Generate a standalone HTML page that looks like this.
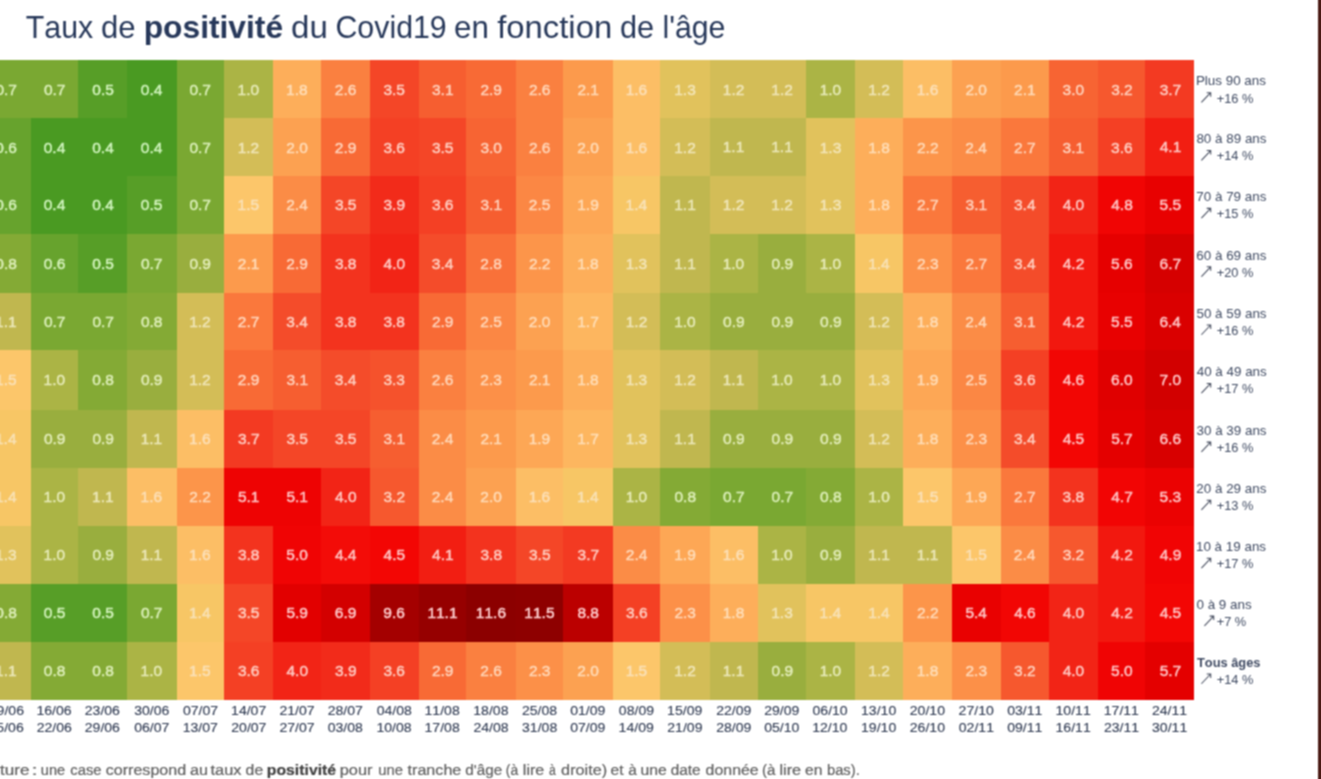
<!DOCTYPE html>
<html><head><meta charset="utf-8"><style>
html,body{margin:0;padding:0;background:#fff;}
body{width:1321px;height:779px;overflow:hidden;position:relative;font-family:"Liberation Sans",sans-serif;}
svg{position:absolute;left:0;top:0;font-kerning:none;}
</style></head><body>
<svg width="1321" height="779" viewBox="0 0 1321 779" font-family="Liberation Sans, sans-serif">
<defs><filter id="bl" x="0" y="0" width="1321" height="779" filterUnits="userSpaceOnUse" color-interpolation-filters="sRGB"><feConvolveMatrix order="3" kernelMatrix="1 2 1 2 4 2 1 2 1" divisor="16" edgeMode="duplicate"/></filter></defs>
<g filter="url(#bl)">
<rect x="0" y="0" width="1321" height="779" fill="#fff"/>
<rect x="1318" y="0" width="3" height="779" fill="#4a1a14"/>
<g fill="#27385a"><text x="25.82" y="38.20" font-size="30.5" textLength="67.41" lengthAdjust="spacingAndGlyphs">Taux</text><text x="100.99" y="38.20" font-size="30.5" textLength="34.59" lengthAdjust="spacingAndGlyphs">de</text><text x="143.71" y="38.20" font-size="30.5" textLength="139.38" lengthAdjust="spacingAndGlyphs" font-weight="bold">positivité</text><text x="291.11" y="38.20" font-size="30.5" textLength="36.78" lengthAdjust="spacingAndGlyphs">du</text><text x="335.46" y="38.20" font-size="30.5" textLength="111.28" lengthAdjust="spacingAndGlyphs">Covid19</text><text x="454.07" y="38.20" font-size="30.5" textLength="34.76" lengthAdjust="spacingAndGlyphs">en</text><text x="497.24" y="38.20" font-size="30.5" textLength="114.89" lengthAdjust="spacingAndGlyphs">fonction</text><text x="619.91" y="38.20" font-size="30.5" textLength="34.15" lengthAdjust="spacingAndGlyphs">de</text><text x="662.46" y="38.20" font-size="30.5" textLength="62.98" lengthAdjust="spacingAndGlyphs">l'âge</text></g>
<g shape-rendering="crispEdges">
<rect x="-17.90" y="60.30" width="49.10" height="58.50" fill="#7aa832"/><rect x="30.60" y="60.30" width="48.00" height="58.50" fill="#7aa832"/><rect x="78.00" y="60.30" width="49.40" height="58.50" fill="#579e27"/><rect x="126.80" y="60.30" width="50.40" height="58.50" fill="#4a9a22"/><rect x="176.60" y="60.30" width="48.30" height="58.50" fill="#7aa832"/><rect x="224.30" y="60.30" width="49.70" height="58.50" fill="#abb445"/><rect x="273.40" y="60.30" width="47.80" height="58.50" fill="#fdae5a"/><rect x="320.60" y="60.30" width="49.90" height="58.50" fill="#fa8040"/><rect x="369.90" y="60.30" width="49.40" height="58.50" fill="#f44627"/><rect x="418.70" y="60.30" width="47.90" height="58.50" fill="#f65e30"/><rect x="466.00" y="60.30" width="50.80" height="58.50" fill="#f86a35"/><rect x="516.20" y="60.30" width="47.40" height="58.50" fill="#fa8040"/><rect x="563.00" y="60.30" width="50.10" height="58.50" fill="#fc9a4c"/><rect x="612.50" y="60.30" width="48.40" height="58.50" fill="#fcbe65"/><rect x="660.30" y="60.30" width="49.80" height="58.50" fill="#e1c25c"/><rect x="709.50" y="60.30" width="49.20" height="58.50" fill="#d3bd57"/><rect x="758.10" y="60.30" width="48.00" height="58.50" fill="#d3bd57"/><rect x="805.50" y="60.30" width="49.80" height="58.50" fill="#abb445"/><rect x="854.70" y="60.30" width="49.00" height="58.50" fill="#d3bd57"/><rect x="903.10" y="60.30" width="49.30" height="58.50" fill="#fcbe65"/><rect x="951.80" y="60.30" width="49.60" height="58.50" fill="#fca151"/><rect x="1000.80" y="60.30" width="48.50" height="58.50" fill="#fc9a4c"/><rect x="1048.70" y="60.30" width="49.90" height="58.50" fill="#f76433"/><rect x="1098.00" y="60.30" width="47.70" height="58.50" fill="#f6582e"/><rect x="1145.10" y="60.30" width="48.90" height="58.50" fill="#f33a22"/><rect x="-17.90" y="118.20" width="49.10" height="58.40" fill="#67a32d"/><rect x="30.60" y="118.20" width="48.00" height="58.40" fill="#4a9a22"/><rect x="78.00" y="118.20" width="49.40" height="58.40" fill="#4a9a22"/><rect x="126.80" y="118.20" width="50.40" height="58.40" fill="#4a9a22"/><rect x="176.60" y="118.20" width="48.30" height="58.40" fill="#7aa832"/><rect x="224.30" y="118.20" width="49.70" height="58.40" fill="#d3bd57"/><rect x="273.40" y="118.20" width="47.80" height="58.40" fill="#fca151"/><rect x="320.60" y="118.20" width="49.90" height="58.40" fill="#f86a35"/><rect x="369.90" y="118.20" width="49.40" height="58.40" fill="#f44024"/><rect x="418.70" y="118.20" width="47.90" height="58.40" fill="#f44627"/><rect x="466.00" y="118.20" width="50.80" height="58.40" fill="#f76433"/><rect x="516.20" y="118.20" width="47.40" height="58.40" fill="#fa8040"/><rect x="563.00" y="118.20" width="50.10" height="58.40" fill="#fca151"/><rect x="612.50" y="118.20" width="48.40" height="58.40" fill="#fcbe65"/><rect x="660.30" y="118.20" width="49.80" height="58.40" fill="#d3bd57"/><rect x="709.50" y="118.20" width="49.20" height="58.40" fill="#c0b74f"/><rect x="758.10" y="118.20" width="48.00" height="58.40" fill="#c0b74f"/><rect x="805.50" y="118.20" width="49.80" height="58.40" fill="#e1c25c"/><rect x="854.70" y="118.20" width="49.00" height="58.40" fill="#fdae5a"/><rect x="903.10" y="118.20" width="49.30" height="58.40" fill="#fc954a"/><rect x="951.80" y="118.20" width="49.60" height="58.40" fill="#fb8c46"/><rect x="1000.80" y="118.20" width="48.50" height="58.40" fill="#fa783c"/><rect x="1048.70" y="118.20" width="49.90" height="58.40" fill="#f65e30"/><rect x="1098.00" y="118.20" width="47.70" height="58.40" fill="#f44024"/><rect x="1145.10" y="118.20" width="48.90" height="58.40" fill="#f21e12"/><rect x="-17.90" y="176.00" width="49.10" height="58.50" fill="#67a32d"/><rect x="30.60" y="176.00" width="48.00" height="58.50" fill="#4a9a22"/><rect x="78.00" y="176.00" width="49.40" height="58.50" fill="#4a9a22"/><rect x="126.80" y="176.00" width="50.40" height="58.50" fill="#579e27"/><rect x="176.60" y="176.00" width="48.30" height="58.50" fill="#7aa832"/><rect x="224.30" y="176.00" width="49.70" height="58.50" fill="#fcc66a"/><rect x="273.40" y="176.00" width="47.80" height="58.50" fill="#fb8c46"/><rect x="320.60" y="176.00" width="49.90" height="58.50" fill="#f44627"/><rect x="369.90" y="176.00" width="49.40" height="58.50" fill="#f22b1a"/><rect x="418.70" y="176.00" width="47.90" height="58.50" fill="#f44024"/><rect x="466.00" y="176.00" width="50.80" height="58.50" fill="#f65e30"/><rect x="516.20" y="176.00" width="47.40" height="58.50" fill="#fb8744"/><rect x="563.00" y="176.00" width="50.10" height="58.50" fill="#fda755"/><rect x="612.50" y="176.00" width="48.40" height="58.50" fill="#f7c665"/><rect x="660.30" y="176.00" width="49.80" height="58.50" fill="#c0b74f"/><rect x="709.50" y="176.00" width="49.20" height="58.50" fill="#d3bd57"/><rect x="758.10" y="176.00" width="48.00" height="58.50" fill="#d3bd57"/><rect x="805.50" y="176.00" width="49.80" height="58.50" fill="#e1c25c"/><rect x="854.70" y="176.00" width="49.00" height="58.50" fill="#fdae5a"/><rect x="903.10" y="176.00" width="49.30" height="58.50" fill="#fa783c"/><rect x="951.80" y="176.00" width="49.60" height="58.50" fill="#f65e30"/><rect x="1000.80" y="176.00" width="48.50" height="58.50" fill="#f44c2a"/><rect x="1048.70" y="176.00" width="49.90" height="58.50" fill="#f22416"/><rect x="1098.00" y="176.00" width="47.70" height="58.50" fill="#f10504"/><rect x="1145.10" y="176.00" width="48.90" height="58.50" fill="#e80101"/><rect x="-17.90" y="233.90" width="49.10" height="59.60" fill="#84aa35"/><rect x="30.60" y="233.90" width="48.00" height="59.60" fill="#67a32d"/><rect x="78.00" y="233.90" width="49.40" height="59.60" fill="#579e27"/><rect x="126.80" y="233.90" width="50.40" height="59.60" fill="#7aa832"/><rect x="176.60" y="233.90" width="48.30" height="59.60" fill="#99ae3e"/><rect x="224.30" y="233.90" width="49.70" height="59.60" fill="#fc9a4c"/><rect x="273.40" y="233.90" width="47.80" height="59.60" fill="#f86a35"/><rect x="320.60" y="233.90" width="49.90" height="59.60" fill="#f3331e"/><rect x="369.90" y="233.90" width="49.40" height="59.60" fill="#f22416"/><rect x="418.70" y="233.90" width="47.90" height="59.60" fill="#f44c2a"/><rect x="466.00" y="233.90" width="50.80" height="59.60" fill="#f97139"/><rect x="516.20" y="233.90" width="47.40" height="59.60" fill="#fc954a"/><rect x="563.00" y="233.90" width="50.10" height="59.60" fill="#fdae5a"/><rect x="612.50" y="233.90" width="48.40" height="59.60" fill="#e1c25c"/><rect x="660.30" y="233.90" width="49.80" height="59.60" fill="#c0b74f"/><rect x="709.50" y="233.90" width="49.20" height="59.60" fill="#abb445"/><rect x="758.10" y="233.90" width="48.00" height="59.60" fill="#99ae3e"/><rect x="805.50" y="233.90" width="49.80" height="59.60" fill="#abb445"/><rect x="854.70" y="233.90" width="49.00" height="59.60" fill="#f7c665"/><rect x="903.10" y="233.90" width="49.30" height="59.60" fill="#fc9048"/><rect x="951.80" y="233.90" width="49.60" height="59.60" fill="#fa783c"/><rect x="1000.80" y="233.90" width="48.50" height="59.60" fill="#f44c2a"/><rect x="1048.70" y="233.90" width="49.90" height="59.60" fill="#f2180f"/><rect x="1098.00" y="233.90" width="47.70" height="59.60" fill="#e60000"/><rect x="1145.10" y="233.90" width="48.90" height="59.60" fill="#d60000"/><rect x="-17.90" y="292.90" width="49.10" height="57.90" fill="#c0b74f"/><rect x="30.60" y="292.90" width="48.00" height="57.90" fill="#7aa832"/><rect x="78.00" y="292.90" width="49.40" height="57.90" fill="#7aa832"/><rect x="126.80" y="292.90" width="50.40" height="57.90" fill="#84aa35"/><rect x="176.60" y="292.90" width="48.30" height="57.90" fill="#d3bd57"/><rect x="224.30" y="292.90" width="49.70" height="57.90" fill="#fa783c"/><rect x="273.40" y="292.90" width="47.80" height="57.90" fill="#f44c2a"/><rect x="320.60" y="292.90" width="49.90" height="57.90" fill="#f3331e"/><rect x="369.90" y="292.90" width="49.40" height="57.90" fill="#f3331e"/><rect x="418.70" y="292.90" width="47.90" height="57.90" fill="#f86a35"/><rect x="466.00" y="292.90" width="50.80" height="57.90" fill="#fb8744"/><rect x="516.20" y="292.90" width="47.40" height="57.90" fill="#fca151"/><rect x="563.00" y="292.90" width="50.10" height="57.90" fill="#fdb65f"/><rect x="612.50" y="292.90" width="48.40" height="57.90" fill="#d3bd57"/><rect x="660.30" y="292.90" width="49.80" height="57.90" fill="#abb445"/><rect x="709.50" y="292.90" width="49.20" height="57.90" fill="#99ae3e"/><rect x="758.10" y="292.90" width="48.00" height="57.90" fill="#99ae3e"/><rect x="805.50" y="292.90" width="49.80" height="57.90" fill="#99ae3e"/><rect x="854.70" y="292.90" width="49.00" height="57.90" fill="#d3bd57"/><rect x="903.10" y="292.90" width="49.30" height="57.90" fill="#fdae5a"/><rect x="951.80" y="292.90" width="49.60" height="57.90" fill="#fb8c46"/><rect x="1000.80" y="292.90" width="48.50" height="57.90" fill="#f65e30"/><rect x="1048.70" y="292.90" width="49.90" height="57.90" fill="#f2180f"/><rect x="1098.00" y="292.90" width="47.70" height="57.90" fill="#e80101"/><rect x="1145.10" y="292.90" width="48.90" height="57.90" fill="#da0000"/><rect x="-17.90" y="350.20" width="49.10" height="60.20" fill="#fcc66a"/><rect x="30.60" y="350.20" width="48.00" height="60.20" fill="#abb445"/><rect x="78.00" y="350.20" width="49.40" height="60.20" fill="#84aa35"/><rect x="126.80" y="350.20" width="50.40" height="60.20" fill="#99ae3e"/><rect x="176.60" y="350.20" width="48.30" height="60.20" fill="#d3bd57"/><rect x="224.30" y="350.20" width="49.70" height="60.20" fill="#f86a35"/><rect x="273.40" y="350.20" width="47.80" height="60.20" fill="#f65e30"/><rect x="320.60" y="350.20" width="49.90" height="60.20" fill="#f44c2a"/><rect x="369.90" y="350.20" width="49.40" height="60.20" fill="#f5522c"/><rect x="418.70" y="350.20" width="47.90" height="60.20" fill="#fa8040"/><rect x="466.00" y="350.20" width="50.80" height="60.20" fill="#fc9048"/><rect x="516.20" y="350.20" width="47.40" height="60.20" fill="#fc9a4c"/><rect x="563.00" y="350.20" width="50.10" height="60.20" fill="#fdae5a"/><rect x="612.50" y="350.20" width="48.40" height="60.20" fill="#e1c25c"/><rect x="660.30" y="350.20" width="49.80" height="60.20" fill="#d3bd57"/><rect x="709.50" y="350.20" width="49.20" height="60.20" fill="#c0b74f"/><rect x="758.10" y="350.20" width="48.00" height="60.20" fill="#abb445"/><rect x="805.50" y="350.20" width="49.80" height="60.20" fill="#abb445"/><rect x="854.70" y="350.20" width="49.00" height="60.20" fill="#e1c25c"/><rect x="903.10" y="350.20" width="49.30" height="60.20" fill="#fda755"/><rect x="951.80" y="350.20" width="49.60" height="60.20" fill="#fb8744"/><rect x="1000.80" y="350.20" width="48.50" height="60.20" fill="#f44024"/><rect x="1048.70" y="350.20" width="49.90" height="60.20" fill="#f20604"/><rect x="1098.00" y="350.20" width="47.70" height="60.20" fill="#e00000"/><rect x="1145.10" y="350.20" width="48.90" height="60.20" fill="#d20000"/><rect x="-17.90" y="409.80" width="49.10" height="58.40" fill="#f7c665"/><rect x="30.60" y="409.80" width="48.00" height="58.40" fill="#99ae3e"/><rect x="78.00" y="409.80" width="49.40" height="58.40" fill="#99ae3e"/><rect x="126.80" y="409.80" width="50.40" height="58.40" fill="#c0b74f"/><rect x="176.60" y="409.80" width="48.30" height="58.40" fill="#fcbe65"/><rect x="224.30" y="409.80" width="49.70" height="58.40" fill="#f33a22"/><rect x="273.40" y="409.80" width="47.80" height="58.40" fill="#f44627"/><rect x="320.60" y="409.80" width="49.90" height="58.40" fill="#f44627"/><rect x="369.90" y="409.80" width="49.40" height="58.40" fill="#f65e30"/><rect x="418.70" y="409.80" width="47.90" height="58.40" fill="#fb8c46"/><rect x="466.00" y="409.80" width="50.80" height="58.40" fill="#fc9a4c"/><rect x="516.20" y="409.80" width="47.40" height="58.40" fill="#fda755"/><rect x="563.00" y="409.80" width="50.10" height="58.40" fill="#fdb65f"/><rect x="612.50" y="409.80" width="48.40" height="58.40" fill="#e1c25c"/><rect x="660.30" y="409.80" width="49.80" height="58.40" fill="#c0b74f"/><rect x="709.50" y="409.80" width="49.20" height="58.40" fill="#99ae3e"/><rect x="758.10" y="409.80" width="48.00" height="58.40" fill="#99ae3e"/><rect x="805.50" y="409.80" width="49.80" height="58.40" fill="#99ae3e"/><rect x="854.70" y="409.80" width="49.00" height="58.40" fill="#d3bd57"/><rect x="903.10" y="409.80" width="49.30" height="58.40" fill="#fdae5a"/><rect x="951.80" y="409.80" width="49.60" height="58.40" fill="#fc9048"/><rect x="1000.80" y="409.80" width="48.50" height="58.40" fill="#f44c2a"/><rect x="1048.70" y="409.80" width="49.90" height="58.40" fill="#f30604"/><rect x="1098.00" y="409.80" width="47.70" height="58.40" fill="#e40000"/><rect x="1145.10" y="409.80" width="48.90" height="58.40" fill="#d80000"/><rect x="-17.90" y="467.60" width="49.10" height="58.90" fill="#f7c665"/><rect x="30.60" y="467.60" width="48.00" height="58.90" fill="#abb445"/><rect x="78.00" y="467.60" width="49.40" height="58.90" fill="#c0b74f"/><rect x="126.80" y="467.60" width="50.40" height="58.90" fill="#fcbe65"/><rect x="176.60" y="467.60" width="48.30" height="58.90" fill="#fc954a"/><rect x="224.30" y="467.60" width="49.70" height="58.90" fill="#ee0303"/><rect x="273.40" y="467.60" width="47.80" height="58.90" fill="#ee0303"/><rect x="320.60" y="467.60" width="49.90" height="58.90" fill="#f22416"/><rect x="369.90" y="467.60" width="49.40" height="58.90" fill="#f6582e"/><rect x="418.70" y="467.60" width="47.90" height="58.90" fill="#fb8c46"/><rect x="466.00" y="467.60" width="50.80" height="58.90" fill="#fca151"/><rect x="516.20" y="467.60" width="47.40" height="58.90" fill="#fcbe65"/><rect x="563.00" y="467.60" width="50.10" height="58.90" fill="#f7c665"/><rect x="612.50" y="467.60" width="48.40" height="58.90" fill="#abb445"/><rect x="660.30" y="467.60" width="49.80" height="58.90" fill="#84aa35"/><rect x="709.50" y="467.60" width="49.20" height="58.90" fill="#7aa832"/><rect x="758.10" y="467.60" width="48.00" height="58.90" fill="#7aa832"/><rect x="805.50" y="467.60" width="49.80" height="58.90" fill="#84aa35"/><rect x="854.70" y="467.60" width="49.00" height="58.90" fill="#abb445"/><rect x="903.10" y="467.60" width="49.30" height="58.90" fill="#fcc66a"/><rect x="951.80" y="467.60" width="49.60" height="58.90" fill="#fda755"/><rect x="1000.80" y="467.60" width="48.50" height="58.90" fill="#fa783c"/><rect x="1048.70" y="467.60" width="49.90" height="58.90" fill="#f3331e"/><rect x="1098.00" y="467.60" width="47.70" height="58.90" fill="#f20504"/><rect x="1145.10" y="467.60" width="48.90" height="58.90" fill="#eb0202"/><rect x="-17.90" y="525.90" width="49.10" height="58.60" fill="#e1c25c"/><rect x="30.60" y="525.90" width="48.00" height="58.60" fill="#abb445"/><rect x="78.00" y="525.90" width="49.40" height="58.60" fill="#99ae3e"/><rect x="126.80" y="525.90" width="50.40" height="58.60" fill="#c0b74f"/><rect x="176.60" y="525.90" width="48.30" height="58.60" fill="#fcbe65"/><rect x="224.30" y="525.90" width="49.70" height="58.60" fill="#f3331e"/><rect x="273.40" y="525.90" width="47.80" height="58.60" fill="#f00404"/><rect x="320.60" y="525.90" width="49.90" height="58.60" fill="#f30c08"/><rect x="369.90" y="525.90" width="49.40" height="58.60" fill="#f30604"/><rect x="418.70" y="525.90" width="47.90" height="58.60" fill="#f21e12"/><rect x="466.00" y="525.90" width="50.80" height="58.60" fill="#f3331e"/><rect x="516.20" y="525.90" width="47.40" height="58.60" fill="#f44627"/><rect x="563.00" y="525.90" width="50.10" height="58.60" fill="#f33a22"/><rect x="612.50" y="525.90" width="48.40" height="58.60" fill="#fb8c46"/><rect x="660.30" y="525.90" width="49.80" height="58.60" fill="#fda755"/><rect x="709.50" y="525.90" width="49.20" height="58.60" fill="#fcbe65"/><rect x="758.10" y="525.90" width="48.00" height="58.60" fill="#abb445"/><rect x="805.50" y="525.90" width="49.80" height="58.60" fill="#99ae3e"/><rect x="854.70" y="525.90" width="49.00" height="58.60" fill="#c0b74f"/><rect x="903.10" y="525.90" width="49.30" height="58.60" fill="#c0b74f"/><rect x="951.80" y="525.90" width="49.60" height="58.60" fill="#fcc66a"/><rect x="1000.80" y="525.90" width="48.50" height="58.60" fill="#fb8c46"/><rect x="1048.70" y="525.90" width="49.90" height="58.60" fill="#f6582e"/><rect x="1098.00" y="525.90" width="47.70" height="58.60" fill="#f2180f"/><rect x="1145.10" y="525.90" width="48.90" height="58.60" fill="#f10404"/><rect x="-17.90" y="583.90" width="49.10" height="58.20" fill="#84aa35"/><rect x="30.60" y="583.90" width="48.00" height="58.20" fill="#579e27"/><rect x="78.00" y="583.90" width="49.40" height="58.20" fill="#579e27"/><rect x="126.80" y="583.90" width="50.40" height="58.20" fill="#7aa832"/><rect x="176.60" y="583.90" width="48.30" height="58.20" fill="#f7c665"/><rect x="224.30" y="583.90" width="49.70" height="58.20" fill="#f44627"/><rect x="273.40" y="583.90" width="47.80" height="58.20" fill="#e20000"/><rect x="320.60" y="583.90" width="49.90" height="58.20" fill="#d30000"/><rect x="369.90" y="583.90" width="49.40" height="58.20" fill="#a40000"/><rect x="418.70" y="583.90" width="47.90" height="58.20" fill="#960000"/><rect x="466.00" y="583.90" width="50.80" height="58.20" fill="#8c0000"/><rect x="516.20" y="583.90" width="47.40" height="58.20" fill="#8e0000"/><rect x="563.00" y="583.90" width="50.10" height="58.20" fill="#bb0000"/><rect x="612.50" y="583.90" width="48.40" height="58.20" fill="#f44024"/><rect x="660.30" y="583.90" width="49.80" height="58.20" fill="#fc9048"/><rect x="709.50" y="583.90" width="49.20" height="58.20" fill="#fdae5a"/><rect x="758.10" y="583.90" width="48.00" height="58.20" fill="#e1c25c"/><rect x="805.50" y="583.90" width="49.80" height="58.20" fill="#f7c665"/><rect x="854.70" y="583.90" width="49.00" height="58.20" fill="#f7c665"/><rect x="903.10" y="583.90" width="49.30" height="58.20" fill="#fc954a"/><rect x="951.80" y="583.90" width="49.60" height="58.20" fill="#e90101"/><rect x="1000.80" y="583.90" width="48.50" height="58.20" fill="#f20604"/><rect x="1048.70" y="583.90" width="49.90" height="58.20" fill="#f22416"/><rect x="1098.00" y="583.90" width="47.70" height="58.20" fill="#f2180f"/><rect x="1145.10" y="583.90" width="48.90" height="58.20" fill="#f30604"/><rect x="-17.90" y="641.50" width="49.10" height="58.10" fill="#c0b74f"/><rect x="30.60" y="641.50" width="48.00" height="58.10" fill="#84aa35"/><rect x="78.00" y="641.50" width="49.40" height="58.10" fill="#84aa35"/><rect x="126.80" y="641.50" width="50.40" height="58.10" fill="#abb445"/><rect x="176.60" y="641.50" width="48.30" height="58.10" fill="#fcc66a"/><rect x="224.30" y="641.50" width="49.70" height="58.10" fill="#f44024"/><rect x="273.40" y="641.50" width="47.80" height="58.10" fill="#f22416"/><rect x="320.60" y="641.50" width="49.90" height="58.10" fill="#f22b1a"/><rect x="369.90" y="641.50" width="49.40" height="58.10" fill="#f44024"/><rect x="418.70" y="641.50" width="47.90" height="58.10" fill="#f86a35"/><rect x="466.00" y="641.50" width="50.80" height="58.10" fill="#fa8040"/><rect x="516.20" y="641.50" width="47.40" height="58.10" fill="#fc9048"/><rect x="563.00" y="641.50" width="50.10" height="58.10" fill="#fca151"/><rect x="612.50" y="641.50" width="48.40" height="58.10" fill="#fcc66a"/><rect x="660.30" y="641.50" width="49.80" height="58.10" fill="#d3bd57"/><rect x="709.50" y="641.50" width="49.20" height="58.10" fill="#c0b74f"/><rect x="758.10" y="641.50" width="48.00" height="58.10" fill="#99ae3e"/><rect x="805.50" y="641.50" width="49.80" height="58.10" fill="#abb445"/><rect x="854.70" y="641.50" width="49.00" height="58.10" fill="#d3bd57"/><rect x="903.10" y="641.50" width="49.30" height="58.10" fill="#fdae5a"/><rect x="951.80" y="641.50" width="49.60" height="58.10" fill="#fc9048"/><rect x="1000.80" y="641.50" width="48.50" height="58.10" fill="#f6582e"/><rect x="1048.70" y="641.50" width="49.90" height="58.10" fill="#f22416"/><rect x="1098.00" y="641.50" width="47.70" height="58.10" fill="#f00404"/><rect x="1145.10" y="641.50" width="48.90" height="58.10" fill="#e40000"/>
</g>
<g font-size="15.5" stroke-width="0.45">
<text x="-4.60" y="94.66" fill="#dcf0bb" stroke="#dcf0bb">0.7</text><text x="43.91" y="94.66" fill="#dcf0bb" stroke="#dcf0bb">0.7</text><text x="92.36" y="94.66" fill="#d4f4be" stroke="#d4f4be">0.5</text><text x="140.77" y="94.66" fill="#d1f5bf" stroke="#d1f5bf">0.4</text><text x="189.44" y="94.66" fill="#dcf0bb" stroke="#dcf0bb">0.7</text><text x="237.58" y="94.66" fill="#e7ebb9" stroke="#e7ebb9">1.0</text><text x="286.12" y="94.66" fill="#ffdeb8" stroke="#ffdeb8">1.8</text><text x="334.84" y="94.66" fill="#ffd7ba" stroke="#ffd7ba">2.6</text><text x="383.43" y="94.66" fill="#ffcec0" stroke="#ffcec0">3.5</text><text x="431.99" y="94.66" fill="#ffd2bd" stroke="#ffd2bd">3.1</text><text x="480.39" y="94.66" fill="#ffd4bc" stroke="#ffd4bc">2.9</text><text x="528.88" y="94.66" fill="#ffd7ba" stroke="#ffd7ba">2.6</text><text x="577.43" y="94.66" fill="#ffdbb8" stroke="#ffdbb8">2.1</text><text x="625.70" y="94.66" fill="#fce0b8" stroke="#fce0b8">1.6</text><text x="674.21" y="94.66" fill="#f3e5b7" stroke="#f3e5b7">1.3</text><text x="722.77" y="94.66" fill="#f0e6b8" stroke="#f0e6b8">1.2</text><text x="771.28" y="94.66" fill="#f0e6b8" stroke="#f0e6b8">1.2</text><text x="819.70" y="94.66" fill="#e7ebb9" stroke="#e7ebb9">1.0</text><text x="868.30" y="94.66" fill="#f0e6b8" stroke="#f0e6b8">1.2</text><text x="916.76" y="94.66" fill="#fce0b8" stroke="#fce0b8">1.6</text><text x="965.43" y="94.66" fill="#ffdcb8" stroke="#ffdcb8">2.0</text><text x="1014.02" y="94.66" fill="#ffdbb8" stroke="#ffdbb8">2.1</text><text x="1062.54" y="94.66" fill="#ffd3bd" stroke="#ffd3bd">3.0</text><text x="1111.14" y="94.66" fill="#ffd1be" stroke="#ffd1be">3.2</text><text x="1159.65" y="94.66" fill="#ffccc2" stroke="#ffccc2">3.7</text><text x="-4.65" y="152.51" fill="#d7f2bd" stroke="#d7f2bd">0.6</text><text x="43.75" y="152.51" fill="#d1f5bf" stroke="#d1f5bf">0.4</text><text x="92.26" y="152.51" fill="#d1f5bf" stroke="#d1f5bf">0.4</text><text x="140.77" y="152.51" fill="#d1f5bf" stroke="#d1f5bf">0.4</text><text x="189.44" y="152.51" fill="#dcf0bb" stroke="#dcf0bb">0.7</text><text x="237.67" y="152.51" fill="#f0e6b8" stroke="#f0e6b8">1.2</text><text x="286.29" y="152.51" fill="#ffdcb8" stroke="#ffdcb8">2.0</text><text x="334.86" y="152.51" fill="#ffd4bc" stroke="#ffd4bc">2.9</text><text x="383.44" y="152.51" fill="#ffcdc1" stroke="#ffcdc1">3.6</text><text x="431.94" y="152.51" fill="#ffcec0" stroke="#ffcec0">3.5</text><text x="480.42" y="152.51" fill="#ffd3bd" stroke="#ffd3bd">3.0</text><text x="528.88" y="152.51" fill="#ffd7ba" stroke="#ffd7ba">2.6</text><text x="577.35" y="152.51" fill="#ffdcb8" stroke="#ffdcb8">2.0</text><text x="625.70" y="152.51" fill="#fce0b8" stroke="#fce0b8">1.6</text><text x="674.26" y="152.51" fill="#f0e6b8" stroke="#f0e6b8">1.2</text><text x="722.75" y="152.43" fill="#ece8b9" stroke="#ece8b9">1.1</text><text x="771.26" y="152.43" fill="#ece8b9" stroke="#ece8b9">1.1</text><text x="819.74" y="152.51" fill="#f3e5b7" stroke="#f3e5b7">1.3</text><text x="868.24" y="152.51" fill="#ffdeb8" stroke="#ffdeb8">1.8</text><text x="917.01" y="152.51" fill="#ffdab8" stroke="#ffdab8">2.2</text><text x="965.35" y="152.51" fill="#ffd9b9" stroke="#ffd9b9">2.4</text><text x="1014.03" y="152.51" fill="#ffd6bb" stroke="#ffd6bb">2.7</text><text x="1062.62" y="152.51" fill="#ffd2bd" stroke="#ffd2bd">3.1</text><text x="1111.09" y="152.51" fill="#ffcdc1" stroke="#ffcdc1">3.6</text><text x="1159.76" y="152.43" fill="#ffc8c3" stroke="#ffc8c3">4.1</text><text x="-4.65" y="210.36" fill="#d7f2bd" stroke="#d7f2bd">0.6</text><text x="43.75" y="210.36" fill="#d1f5bf" stroke="#d1f5bf">0.4</text><text x="92.26" y="210.36" fill="#d1f5bf" stroke="#d1f5bf">0.4</text><text x="140.87" y="210.36" fill="#d4f4be" stroke="#d4f4be">0.5</text><text x="189.44" y="210.36" fill="#dcf0bb" stroke="#dcf0bb">0.7</text><text x="237.60" y="210.28" fill="#fae1b8" stroke="#fae1b8">1.5</text><text x="286.21" y="210.36" fill="#ffd9b9" stroke="#ffd9b9">2.4</text><text x="334.92" y="210.36" fill="#ffcec0" stroke="#ffcec0">3.5</text><text x="383.47" y="210.36" fill="#ffcac2" stroke="#ffcac2">3.9</text><text x="431.95" y="210.36" fill="#ffcdc1" stroke="#ffcdc1">3.6</text><text x="480.50" y="210.36" fill="#ffd2bd" stroke="#ffd2bd">3.1</text><text x="528.86" y="210.36" fill="#ffd8ba" stroke="#ffd8ba">2.5</text><text x="577.21" y="210.36" fill="#ffddb8" stroke="#ffddb8">1.9</text><text x="625.58" y="210.28" fill="#f8e2b7" stroke="#f8e2b7">1.4</text><text x="674.24" y="210.28" fill="#ece8b9" stroke="#ece8b9">1.1</text><text x="722.77" y="210.36" fill="#f0e6b8" stroke="#f0e6b8">1.2</text><text x="771.28" y="210.36" fill="#f0e6b8" stroke="#f0e6b8">1.2</text><text x="819.74" y="210.36" fill="#f3e5b7" stroke="#f3e5b7">1.3</text><text x="868.24" y="210.36" fill="#ffdeb8" stroke="#ffdeb8">1.8</text><text x="917.01" y="210.36" fill="#ffd6bb" stroke="#ffd6bb">2.7</text><text x="965.60" y="210.36" fill="#ffd2bd" stroke="#ffd2bd">3.1</text><text x="1013.96" y="210.36" fill="#ffcfc0" stroke="#ffcfc0">3.4</text><text x="1062.66" y="210.36" fill="#ffc9c3" stroke="#ffc9c3">4.0</text><text x="1111.21" y="210.36" fill="#ffc4c4" stroke="#ffc4c4">4.8</text><text x="1159.57" y="210.28" fill="#ffc5c5" stroke="#ffc5c5">5.5</text><text x="-4.65" y="268.81" fill="#deefba" stroke="#deefba">0.8</text><text x="43.86" y="268.81" fill="#d7f2bd" stroke="#d7f2bd">0.6</text><text x="92.36" y="268.81" fill="#d4f4be" stroke="#d4f4be">0.5</text><text x="140.93" y="268.81" fill="#dcf0bb" stroke="#dcf0bb">0.7</text><text x="189.42" y="268.81" fill="#e3edba" stroke="#e3edba">0.9</text><text x="237.86" y="268.81" fill="#ffdbb8" stroke="#ffdbb8">2.1</text><text x="286.35" y="268.81" fill="#ffd4bc" stroke="#ffd4bc">2.9</text><text x="334.93" y="268.81" fill="#ffcbc2" stroke="#ffcbc2">3.8</text><text x="383.52" y="268.81" fill="#ffc9c3" stroke="#ffc9c3">4.0</text><text x="431.84" y="268.81" fill="#ffcfc0" stroke="#ffcfc0">3.4</text><text x="480.36" y="268.81" fill="#ffd5bb" stroke="#ffd5bb">2.8</text><text x="528.93" y="268.81" fill="#ffdab8" stroke="#ffdab8">2.2</text><text x="577.18" y="268.81" fill="#ffdeb8" stroke="#ffdeb8">1.8</text><text x="625.70" y="268.81" fill="#f3e5b7" stroke="#f3e5b7">1.3</text><text x="674.24" y="268.73" fill="#ece8b9" stroke="#ece8b9">1.1</text><text x="722.68" y="268.81" fill="#e7ebb9" stroke="#e7ebb9">1.0</text><text x="771.54" y="268.81" fill="#e3edba" stroke="#e3edba">0.9</text><text x="819.70" y="268.81" fill="#e7ebb9" stroke="#e7ebb9">1.0</text><text x="868.13" y="268.73" fill="#f8e2b7" stroke="#f8e2b7">1.4</text><text x="916.96" y="268.81" fill="#ffd9b9" stroke="#ffd9b9">2.3</text><text x="965.52" y="268.81" fill="#ffd6bb" stroke="#ffd6bb">2.7</text><text x="1013.96" y="268.81" fill="#ffcfc0" stroke="#ffcfc0">3.4</text><text x="1062.75" y="268.81" fill="#ffc7c3" stroke="#ffc7c3">4.2</text><text x="1111.08" y="268.81" fill="#ffc5c5" stroke="#ffc5c5">5.6</text><text x="1159.55" y="268.81" fill="#ffc7c7" stroke="#ffc7c7">6.7</text><text x="-4.90" y="326.88" fill="#ece8b9" stroke="#ece8b9">1.1</text><text x="43.91" y="326.96" fill="#dcf0bb" stroke="#dcf0bb">0.7</text><text x="92.42" y="326.96" fill="#dcf0bb" stroke="#dcf0bb">0.7</text><text x="140.88" y="326.96" fill="#deefba" stroke="#deefba">0.8</text><text x="189.16" y="326.96" fill="#f0e6b8" stroke="#f0e6b8">1.2</text><text x="237.87" y="326.96" fill="#ffd6bb" stroke="#ffd6bb">2.7</text><text x="286.31" y="326.96" fill="#ffcfc0" stroke="#ffcfc0">3.4</text><text x="334.93" y="326.96" fill="#ffcbc2" stroke="#ffcbc2">3.8</text><text x="383.44" y="326.96" fill="#ffcbc2" stroke="#ffcbc2">3.8</text><text x="431.88" y="326.96" fill="#ffd4bc" stroke="#ffd4bc">2.9</text><text x="480.35" y="326.96" fill="#ffd8ba" stroke="#ffd8ba">2.5</text><text x="528.84" y="326.96" fill="#ffdcb8" stroke="#ffdcb8">2.0</text><text x="577.24" y="326.88" fill="#ffdfb8" stroke="#ffdfb8">1.7</text><text x="625.75" y="326.96" fill="#f0e6b8" stroke="#f0e6b8">1.2</text><text x="674.17" y="326.96" fill="#e7ebb9" stroke="#e7ebb9">1.0</text><text x="723.03" y="326.96" fill="#e3edba" stroke="#e3edba">0.9</text><text x="771.54" y="326.96" fill="#e3edba" stroke="#e3edba">0.9</text><text x="820.05" y="326.96" fill="#e3edba" stroke="#e3edba">0.9</text><text x="868.30" y="326.96" fill="#f0e6b8" stroke="#f0e6b8">1.2</text><text x="916.75" y="326.96" fill="#ffdeb8" stroke="#ffdeb8">1.8</text><text x="965.35" y="326.96" fill="#ffd9b9" stroke="#ffd9b9">2.4</text><text x="1014.11" y="326.96" fill="#ffd2bd" stroke="#ffd2bd">3.1</text><text x="1062.75" y="326.96" fill="#ffc7c3" stroke="#ffc7c3">4.2</text><text x="1111.06" y="326.88" fill="#ffc5c5" stroke="#ffc5c5">5.5</text><text x="1159.39" y="326.96" fill="#ffc7c7" stroke="#ffc7c7">6.4</text><text x="-4.95" y="385.33" fill="#fae1b8" stroke="#fae1b8">1.5</text><text x="43.54" y="385.41" fill="#e7ebb9" stroke="#e7ebb9">1.0</text><text x="92.37" y="385.41" fill="#deefba" stroke="#deefba">0.8</text><text x="140.91" y="385.41" fill="#e3edba" stroke="#e3edba">0.9</text><text x="189.16" y="385.41" fill="#f0e6b8" stroke="#f0e6b8">1.2</text><text x="237.84" y="385.41" fill="#ffd4bc" stroke="#ffd4bc">2.9</text><text x="286.46" y="385.41" fill="#ffd2bd" stroke="#ffd2bd">3.1</text><text x="334.82" y="385.41" fill="#ffcfc0" stroke="#ffcfc0">3.4</text><text x="383.44" y="385.41" fill="#ffd0bf" stroke="#ffd0bf">3.3</text><text x="431.86" y="385.41" fill="#ffd7ba" stroke="#ffd7ba">2.6</text><text x="480.37" y="385.41" fill="#ffd9b9" stroke="#ffd9b9">2.3</text><text x="528.92" y="385.41" fill="#ffdbb8" stroke="#ffdbb8">2.1</text><text x="577.18" y="385.41" fill="#ffdeb8" stroke="#ffdeb8">1.8</text><text x="625.70" y="385.41" fill="#f3e5b7" stroke="#f3e5b7">1.3</text><text x="674.26" y="385.41" fill="#f0e6b8" stroke="#f0e6b8">1.2</text><text x="722.75" y="385.33" fill="#ece8b9" stroke="#ece8b9">1.1</text><text x="771.19" y="385.41" fill="#e7ebb9" stroke="#e7ebb9">1.0</text><text x="819.70" y="385.41" fill="#e7ebb9" stroke="#e7ebb9">1.0</text><text x="868.25" y="385.41" fill="#f3e5b7" stroke="#f3e5b7">1.3</text><text x="916.78" y="385.41" fill="#ffddb8" stroke="#ffddb8">1.9</text><text x="965.45" y="385.41" fill="#ffd8ba" stroke="#ffd8ba">2.5</text><text x="1014.07" y="385.41" fill="#ffcdc1" stroke="#ffcdc1">3.6</text><text x="1062.70" y="385.41" fill="#ffc4c3" stroke="#ffc4c3">4.6</text><text x="1110.96" y="385.41" fill="#ffc6c6" stroke="#ffc6c6">6.0</text><text x="1159.46" y="385.41" fill="#ffc8c8" stroke="#ffc8c8">7.0</text><text x="-5.05" y="444.03" fill="#f8e2b7" stroke="#f8e2b7">1.4</text><text x="43.89" y="444.11" fill="#e3edba" stroke="#e3edba">0.9</text><text x="92.40" y="444.11" fill="#e3edba" stroke="#e3edba">0.9</text><text x="140.63" y="444.03" fill="#ece8b9" stroke="#ece8b9">1.1</text><text x="189.11" y="444.11" fill="#fce0b8" stroke="#fce0b8">1.6</text><text x="237.96" y="444.11" fill="#ffccc2" stroke="#ffccc2">3.7</text><text x="286.41" y="444.11" fill="#ffcec0" stroke="#ffcec0">3.5</text><text x="334.92" y="444.11" fill="#ffcec0" stroke="#ffcec0">3.5</text><text x="383.48" y="444.11" fill="#ffd2bd" stroke="#ffd2bd">3.1</text><text x="431.74" y="444.11" fill="#ffd9b9" stroke="#ffd9b9">2.4</text><text x="480.41" y="444.11" fill="#ffdbb8" stroke="#ffdbb8">2.1</text><text x="528.70" y="444.11" fill="#ffddb8" stroke="#ffddb8">1.9</text><text x="577.24" y="444.03" fill="#ffdfb8" stroke="#ffdfb8">1.7</text><text x="625.70" y="444.11" fill="#f3e5b7" stroke="#f3e5b7">1.3</text><text x="674.24" y="444.03" fill="#ece8b9" stroke="#ece8b9">1.1</text><text x="723.03" y="444.11" fill="#e3edba" stroke="#e3edba">0.9</text><text x="771.54" y="444.11" fill="#e3edba" stroke="#e3edba">0.9</text><text x="820.05" y="444.11" fill="#e3edba" stroke="#e3edba">0.9</text><text x="868.30" y="444.11" fill="#f0e6b8" stroke="#f0e6b8">1.2</text><text x="916.75" y="444.11" fill="#ffdeb8" stroke="#ffdeb8">1.8</text><text x="965.47" y="444.11" fill="#ffd9b9" stroke="#ffd9b9">2.3</text><text x="1013.96" y="444.11" fill="#ffcfc0" stroke="#ffcfc0">3.4</text><text x="1062.68" y="444.03" fill="#ffc4c3" stroke="#ffc4c3">4.5</text><text x="1111.13" y="444.03" fill="#ffc5c5" stroke="#ffc5c5">5.7</text><text x="1159.50" y="444.11" fill="#ffc7c7" stroke="#ffc7c7">6.6</text><text x="-5.05" y="502.08" fill="#f8e2b7" stroke="#f8e2b7">1.4</text><text x="43.54" y="502.16" fill="#e7ebb9" stroke="#e7ebb9">1.0</text><text x="92.12" y="502.08" fill="#ece8b9" stroke="#ece8b9">1.1</text><text x="140.60" y="502.16" fill="#fce0b8" stroke="#fce0b8">1.6</text><text x="189.36" y="502.16" fill="#ffdab8" stroke="#ffdab8">2.2</text><text x="237.93" y="502.08" fill="#ffc4c4" stroke="#ffc4c4">5.1</text><text x="286.44" y="502.08" fill="#ffc4c4" stroke="#ffc4c4">5.1</text><text x="335.01" y="502.16" fill="#ffc9c3" stroke="#ffc9c3">4.0</text><text x="383.49" y="502.16" fill="#ffd1be" stroke="#ffd1be">3.2</text><text x="431.74" y="502.16" fill="#ffd9b9" stroke="#ffd9b9">2.4</text><text x="480.33" y="502.16" fill="#ffdcb8" stroke="#ffdcb8">2.0</text><text x="528.68" y="502.16" fill="#fce0b8" stroke="#fce0b8">1.6</text><text x="577.07" y="502.08" fill="#f8e2b7" stroke="#f8e2b7">1.4</text><text x="625.66" y="502.16" fill="#e7ebb9" stroke="#e7ebb9">1.0</text><text x="674.49" y="502.16" fill="#deefba" stroke="#deefba">0.8</text><text x="723.05" y="502.16" fill="#dcf0bb" stroke="#dcf0bb">0.7</text><text x="771.56" y="502.16" fill="#dcf0bb" stroke="#dcf0bb">0.7</text><text x="820.02" y="502.16" fill="#deefba" stroke="#deefba">0.8</text><text x="868.21" y="502.16" fill="#e7ebb9" stroke="#e7ebb9">1.0</text><text x="916.74" y="502.08" fill="#fae1b8" stroke="#fae1b8">1.5</text><text x="965.29" y="502.16" fill="#ffddb8" stroke="#ffddb8">1.9</text><text x="1014.03" y="502.16" fill="#ffd6bb" stroke="#ffd6bb">2.7</text><text x="1062.58" y="502.16" fill="#ffcbc2" stroke="#ffcbc2">3.8</text><text x="1111.26" y="502.08" fill="#ffc4c4" stroke="#ffc4c4">4.7</text><text x="1159.59" y="502.16" fill="#ffc5c5" stroke="#ffc5c5">5.3</text><text x="-4.93" y="560.31" fill="#f3e5b7" stroke="#f3e5b7">1.3</text><text x="43.54" y="560.31" fill="#e7ebb9" stroke="#e7ebb9">1.0</text><text x="92.40" y="560.31" fill="#e3edba" stroke="#e3edba">0.9</text><text x="140.63" y="560.23" fill="#ece8b9" stroke="#ece8b9">1.1</text><text x="189.11" y="560.31" fill="#fce0b8" stroke="#fce0b8">1.6</text><text x="237.91" y="560.31" fill="#ffcbc2" stroke="#ffcbc2">3.8</text><text x="286.37" y="560.31" fill="#ffc4c4" stroke="#ffc4c4">5.0</text><text x="334.94" y="560.23" fill="#ffc5c3" stroke="#ffc5c3">4.4</text><text x="383.54" y="560.23" fill="#ffc4c3" stroke="#ffc4c3">4.5</text><text x="432.11" y="560.23" fill="#ffc8c3" stroke="#ffc8c3">4.1</text><text x="480.46" y="560.31" fill="#ffcbc2" stroke="#ffcbc2">3.8</text><text x="528.96" y="560.31" fill="#ffcec0" stroke="#ffcec0">3.5</text><text x="577.53" y="560.31" fill="#ffccc2" stroke="#ffccc2">3.7</text><text x="625.78" y="560.31" fill="#ffd9b9" stroke="#ffd9b9">2.4</text><text x="674.23" y="560.31" fill="#ffddb8" stroke="#ffddb8">1.9</text><text x="722.72" y="560.31" fill="#fce0b8" stroke="#fce0b8">1.6</text><text x="771.19" y="560.31" fill="#e7ebb9" stroke="#e7ebb9">1.0</text><text x="820.05" y="560.31" fill="#e3edba" stroke="#e3edba">0.9</text><text x="868.28" y="560.23" fill="#ece8b9" stroke="#ece8b9">1.1</text><text x="916.79" y="560.23" fill="#ece8b9" stroke="#ece8b9">1.1</text><text x="965.25" y="560.23" fill="#fae1b8" stroke="#fae1b8">1.5</text><text x="1013.86" y="560.31" fill="#ffd9b9" stroke="#ffd9b9">2.4</text><text x="1062.63" y="560.31" fill="#ffd1be" stroke="#ffd1be">3.2</text><text x="1111.26" y="560.31" fill="#ffc7c3" stroke="#ffc7c3">4.2</text><text x="1159.75" y="560.31" fill="#ffc4c4" stroke="#ffc4c4">4.9</text><text x="-4.65" y="618.11" fill="#deefba" stroke="#deefba">0.8</text><text x="43.85" y="618.11" fill="#d4f4be" stroke="#d4f4be">0.5</text><text x="92.36" y="618.11" fill="#d4f4be" stroke="#d4f4be">0.5</text><text x="140.93" y="618.11" fill="#dcf0bb" stroke="#dcf0bb">0.7</text><text x="188.99" y="618.03" fill="#f8e2b7" stroke="#f8e2b7">1.4</text><text x="237.90" y="618.11" fill="#ffcec0" stroke="#ffcec0">3.5</text><text x="286.43" y="618.11" fill="#ffc6c6" stroke="#ffc6c6">5.9</text><text x="334.86" y="618.11" fill="#ffc8c8" stroke="#ffc8c8">6.9</text><text x="383.37" y="618.11" fill="#ffcece" stroke="#ffcece">9.6</text><text x="427.38" y="618.03" fill="#ffd0d0" stroke="#ffd0d0">11.1</text><text x="475.86" y="618.11" fill="#ffd1d1" stroke="#ffd1d1">11.6</text><text x="524.35" y="618.03" fill="#ffd1d1" stroke="#ffd1d1">11.5</text><text x="577.44" y="618.11" fill="#ffcbcb" stroke="#ffcbcb">8.8</text><text x="625.99" y="618.11" fill="#ffcdc1" stroke="#ffcdc1">3.6</text><text x="674.41" y="618.11" fill="#ffd9b9" stroke="#ffd9b9">2.3</text><text x="722.71" y="618.11" fill="#ffdeb8" stroke="#ffdeb8">1.8</text><text x="771.23" y="618.11" fill="#f3e5b7" stroke="#f3e5b7">1.3</text><text x="819.62" y="618.03" fill="#f8e2b7" stroke="#f8e2b7">1.4</text><text x="868.13" y="618.03" fill="#f8e2b7" stroke="#f8e2b7">1.4</text><text x="917.01" y="618.11" fill="#ffdab8" stroke="#ffdab8">2.2</text><text x="965.43" y="618.03" fill="#ffc5c5" stroke="#ffc5c5">5.4</text><text x="1014.19" y="618.11" fill="#ffc4c3" stroke="#ffc4c3">4.6</text><text x="1062.66" y="618.11" fill="#ffc9c3" stroke="#ffc9c3">4.0</text><text x="1111.26" y="618.11" fill="#ffc7c3" stroke="#ffc7c3">4.2</text><text x="1159.70" y="618.03" fill="#ffc4c3" stroke="#ffc4c3">4.5</text><text x="-4.90" y="675.88" fill="#ece8b9" stroke="#ece8b9">1.1</text><text x="43.86" y="675.96" fill="#deefba" stroke="#deefba">0.8</text><text x="92.37" y="675.96" fill="#deefba" stroke="#deefba">0.8</text><text x="140.56" y="675.96" fill="#e7ebb9" stroke="#e7ebb9">1.0</text><text x="189.09" y="675.88" fill="#fae1b8" stroke="#fae1b8">1.5</text><text x="237.91" y="675.96" fill="#ffcdc1" stroke="#ffcdc1">3.6</text><text x="286.50" y="675.96" fill="#ffc9c3" stroke="#ffc9c3">4.0</text><text x="334.96" y="675.96" fill="#ffcac2" stroke="#ffcac2">3.9</text><text x="383.44" y="675.96" fill="#ffcdc1" stroke="#ffcdc1">3.6</text><text x="431.88" y="675.96" fill="#ffd4bc" stroke="#ffd4bc">2.9</text><text x="480.37" y="675.96" fill="#ffd7ba" stroke="#ffd7ba">2.6</text><text x="528.88" y="675.96" fill="#ffd9b9" stroke="#ffd9b9">2.3</text><text x="577.35" y="675.96" fill="#ffdcb8" stroke="#ffdcb8">2.0</text><text x="625.68" y="675.88" fill="#fae1b8" stroke="#fae1b8">1.5</text><text x="674.26" y="675.96" fill="#f0e6b8" stroke="#f0e6b8">1.2</text><text x="722.75" y="675.88" fill="#ece8b9" stroke="#ece8b9">1.1</text><text x="771.54" y="675.96" fill="#e3edba" stroke="#e3edba">0.9</text><text x="819.70" y="675.96" fill="#e7ebb9" stroke="#e7ebb9">1.0</text><text x="868.30" y="675.96" fill="#f0e6b8" stroke="#f0e6b8">1.2</text><text x="916.75" y="675.96" fill="#ffdeb8" stroke="#ffdeb8">1.8</text><text x="965.47" y="675.96" fill="#ffd9b9" stroke="#ffd9b9">2.3</text><text x="1014.12" y="675.96" fill="#ffd1be" stroke="#ffd1be">3.2</text><text x="1062.66" y="675.96" fill="#ffc9c3" stroke="#ffc9c3">4.0</text><text x="1111.04" y="675.96" fill="#ffc4c4" stroke="#ffc4c4">5.0</text><text x="1159.64" y="675.88" fill="#ffc5c5" stroke="#ffc5c5">5.7</text>
</g>
<g fill="#3f4a62">
<text x="1195.90" y="85.35" font-size="13.5" textLength="70.08" lengthAdjust="spacingAndGlyphs">Plus 90 ans</text><text x="1216.67" y="102.55" font-size="13.5" textLength="36.68" lengthAdjust="spacingAndGlyphs">+16 %</text><text x="1196.42" y="143.20" font-size="13.5" textLength="70.10" lengthAdjust="spacingAndGlyphs">80 à 89 ans</text><text x="1216.67" y="160.40" font-size="13.5" textLength="36.68" lengthAdjust="spacingAndGlyphs">+14 %</text><text x="1196.31" y="201.05" font-size="13.5" textLength="70.10" lengthAdjust="spacingAndGlyphs">70 à 79 ans</text><text x="1216.67" y="218.25" font-size="13.5" textLength="36.68" lengthAdjust="spacingAndGlyphs">+15 %</text><text x="1196.32" y="259.50" font-size="13.5" textLength="70.10" lengthAdjust="spacingAndGlyphs">60 à 69 ans</text><text x="1216.67" y="276.70" font-size="13.5" textLength="36.68" lengthAdjust="spacingAndGlyphs">+20 %</text><text x="1196.46" y="317.65" font-size="13.5" textLength="70.10" lengthAdjust="spacingAndGlyphs">50 à 59 ans</text><text x="1216.67" y="334.85" font-size="13.5" textLength="36.68" lengthAdjust="spacingAndGlyphs">+16 %</text><text x="1196.69" y="376.10" font-size="13.5" textLength="70.10" lengthAdjust="spacingAndGlyphs">40 à 49 ans</text><text x="1216.67" y="393.30" font-size="13.5" textLength="36.68" lengthAdjust="spacingAndGlyphs">+17 %</text><text x="1196.49" y="434.80" font-size="13.5" textLength="70.10" lengthAdjust="spacingAndGlyphs">30 à 39 ans</text><text x="1216.67" y="452.00" font-size="13.5" textLength="36.68" lengthAdjust="spacingAndGlyphs">+16 %</text><text x="1196.33" y="492.85" font-size="13.5" textLength="70.10" lengthAdjust="spacingAndGlyphs">20 à 29 ans</text><text x="1216.67" y="510.05" font-size="13.5" textLength="36.68" lengthAdjust="spacingAndGlyphs">+13 %</text><text x="1195.98" y="551.00" font-size="13.5" textLength="70.10" lengthAdjust="spacingAndGlyphs">10 à 19 ans</text><text x="1216.67" y="568.20" font-size="13.5" textLength="36.68" lengthAdjust="spacingAndGlyphs">+17 %</text><text x="1196.48" y="608.80" font-size="13.5" textLength="55.18" lengthAdjust="spacingAndGlyphs">0 à 9 ans</text><text x="1216.67" y="626.00" font-size="13.5" textLength="29.56" lengthAdjust="spacingAndGlyphs">+7 %</text><text x="1196.96" y="666.65" font-size="13.5" textLength="63.57" lengthAdjust="spacingAndGlyphs" font-weight="bold">Tous âges</text><text x="1216.67" y="683.85" font-size="13.5" textLength="36.68" lengthAdjust="spacingAndGlyphs">+14 %</text>
</g>
<path d="M1201.40 102.45 L1210.40 92.95 M1206.70 92.65 L1210.70 92.65 L1210.70 96.65 M1201.40 160.30 L1210.40 150.80 M1206.70 150.50 L1210.70 150.50 L1210.70 154.50 M1201.40 218.15 L1210.40 208.65 M1206.70 208.35 L1210.70 208.35 L1210.70 212.35 M1201.40 276.60 L1210.40 267.10 M1206.70 266.80 L1210.70 266.80 L1210.70 270.80 M1201.40 334.75 L1210.40 325.25 M1206.70 324.95 L1210.70 324.95 L1210.70 328.95 M1201.40 393.20 L1210.40 383.70 M1206.70 383.40 L1210.70 383.40 L1210.70 387.40 M1201.40 451.90 L1210.40 442.40 M1206.70 442.10 L1210.70 442.10 L1210.70 446.10 M1201.40 509.95 L1210.40 500.45 M1206.70 500.15 L1210.70 500.15 L1210.70 504.15 M1201.40 568.10 L1210.40 558.60 M1206.70 558.30 L1210.70 558.30 L1210.70 562.30 M1204.40 625.90 L1213.40 616.40 M1209.70 616.10 L1213.70 616.10 L1213.70 620.10 M1201.40 683.75 L1210.40 674.25 M1206.70 673.95 L1210.70 673.95 L1210.70 677.95" stroke="#434a5c" stroke-width="1.05" fill="none" stroke-linejoin="miter"/>
<g fill="#2f3a52" stroke="#2f3a52" stroke-width="0.1">
<text x="-11.21" y="714.70" font-size="12.5" textLength="35.19" lengthAdjust="spacingAndGlyphs">09/06</text><text x="-11.47" y="731.60" font-size="12.5" textLength="35.19" lengthAdjust="spacingAndGlyphs">15/06</text><text x="36.48" y="714.70" font-size="12.5" textLength="35.19" lengthAdjust="spacingAndGlyphs">16/06</text><text x="36.66" y="731.60" font-size="12.5" textLength="35.19" lengthAdjust="spacingAndGlyphs">22/06</text><text x="84.76" y="714.70" font-size="12.5" textLength="35.19" lengthAdjust="spacingAndGlyphs">23/06</text><text x="84.76" y="731.60" font-size="12.5" textLength="35.19" lengthAdjust="spacingAndGlyphs">29/06</text><text x="134.15" y="714.70" font-size="12.5" textLength="35.19" lengthAdjust="spacingAndGlyphs">30/06</text><text x="134.18" y="731.60" font-size="12.5" textLength="35.19" lengthAdjust="spacingAndGlyphs">06/07</text><text x="182.93" y="714.70" font-size="12.5" textLength="35.19" lengthAdjust="spacingAndGlyphs">07/07</text><text x="182.67" y="731.60" font-size="12.5" textLength="35.19" lengthAdjust="spacingAndGlyphs">13/07</text><text x="231.07" y="714.70" font-size="12.5" textLength="35.19" lengthAdjust="spacingAndGlyphs">14/07</text><text x="231.26" y="731.60" font-size="12.5" textLength="35.19" lengthAdjust="spacingAndGlyphs">20/07</text><text x="279.41" y="714.70" font-size="12.5" textLength="35.19" lengthAdjust="spacingAndGlyphs">21/07</text><text x="279.41" y="731.60" font-size="12.5" textLength="35.19" lengthAdjust="spacingAndGlyphs">27/07</text><text x="327.66" y="714.70" font-size="12.5" textLength="35.19" lengthAdjust="spacingAndGlyphs">28/07</text><text x="327.69" y="731.60" font-size="12.5" textLength="35.19" lengthAdjust="spacingAndGlyphs">03/08</text><text x="376.74" y="714.70" font-size="12.5" textLength="35.19" lengthAdjust="spacingAndGlyphs">04/08</text><text x="376.48" y="731.60" font-size="12.5" textLength="35.19" lengthAdjust="spacingAndGlyphs">10/08</text><text x="424.53" y="714.70" font-size="12.5" textLength="35.19" lengthAdjust="spacingAndGlyphs">11/08</text><text x="424.53" y="731.60" font-size="12.5" textLength="35.19" lengthAdjust="spacingAndGlyphs">17/08</text><text x="473.28" y="714.70" font-size="12.5" textLength="35.19" lengthAdjust="spacingAndGlyphs">18/08</text><text x="473.46" y="731.60" font-size="12.5" textLength="35.19" lengthAdjust="spacingAndGlyphs">24/08</text><text x="521.96" y="714.70" font-size="12.5" textLength="35.19" lengthAdjust="spacingAndGlyphs">25/08</text><text x="522.04" y="731.60" font-size="12.5" textLength="35.19" lengthAdjust="spacingAndGlyphs">31/08</text><text x="570.21" y="714.70" font-size="12.5" textLength="35.19" lengthAdjust="spacingAndGlyphs">01/09</text><text x="570.21" y="731.60" font-size="12.5" textLength="35.19" lengthAdjust="spacingAndGlyphs">07/09</text><text x="618.86" y="714.70" font-size="12.5" textLength="35.19" lengthAdjust="spacingAndGlyphs">08/09</text><text x="618.60" y="731.60" font-size="12.5" textLength="35.19" lengthAdjust="spacingAndGlyphs">14/09</text><text x="667.10" y="714.70" font-size="12.5" textLength="35.19" lengthAdjust="spacingAndGlyphs">15/09</text><text x="667.28" y="731.60" font-size="12.5" textLength="35.19" lengthAdjust="spacingAndGlyphs">21/09</text><text x="716.18" y="714.70" font-size="12.5" textLength="35.19" lengthAdjust="spacingAndGlyphs">22/09</text><text x="716.18" y="731.60" font-size="12.5" textLength="35.19" lengthAdjust="spacingAndGlyphs">28/09</text><text x="764.18" y="714.70" font-size="12.5" textLength="35.19" lengthAdjust="spacingAndGlyphs">29/09</text><text x="764.21" y="731.60" font-size="12.5" textLength="35.19" lengthAdjust="spacingAndGlyphs">05/10</text><text x="812.51" y="714.70" font-size="12.5" textLength="35.19" lengthAdjust="spacingAndGlyphs">06/10</text><text x="812.24" y="731.60" font-size="12.5" textLength="35.19" lengthAdjust="spacingAndGlyphs">12/10</text><text x="861.04" y="714.70" font-size="12.5" textLength="35.19" lengthAdjust="spacingAndGlyphs">13/10</text><text x="861.04" y="731.60" font-size="12.5" textLength="35.19" lengthAdjust="spacingAndGlyphs">19/10</text><text x="909.78" y="714.70" font-size="12.5" textLength="35.19" lengthAdjust="spacingAndGlyphs">20/10</text><text x="909.78" y="731.60" font-size="12.5" textLength="35.19" lengthAdjust="spacingAndGlyphs">26/10</text><text x="958.63" y="714.70" font-size="12.5" textLength="35.19" lengthAdjust="spacingAndGlyphs">27/10</text><text x="958.77" y="731.60" font-size="12.5" textLength="35.19" lengthAdjust="spacingAndGlyphs">02/11</text><text x="1007.22" y="714.70" font-size="12.5" textLength="35.19" lengthAdjust="spacingAndGlyphs">03/11</text><text x="1007.22" y="731.60" font-size="12.5" textLength="35.19" lengthAdjust="spacingAndGlyphs">09/11</text><text x="1055.56" y="714.70" font-size="12.5" textLength="35.19" lengthAdjust="spacingAndGlyphs">10/11</text><text x="1055.56" y="731.60" font-size="12.5" textLength="35.19" lengthAdjust="spacingAndGlyphs">16/11</text><text x="1103.76" y="714.70" font-size="12.5" textLength="35.19" lengthAdjust="spacingAndGlyphs">17/11</text><text x="1103.95" y="731.60" font-size="12.5" textLength="35.19" lengthAdjust="spacingAndGlyphs">23/11</text><text x="1151.95" y="714.70" font-size="12.5" textLength="35.19" lengthAdjust="spacingAndGlyphs">24/11</text><text x="1152.03" y="731.60" font-size="12.5" textLength="35.19" lengthAdjust="spacingAndGlyphs">30/11</text>
</g>
<g fill="#5e5e5e" stroke="#5e5e5e" stroke-width="0.2"><text x="0.04" y="775.30" font-size="15.5" textLength="29.52" lengthAdjust="spacingAndGlyphs">ture</text><text x="31.39" y="775.30" font-size="15.5" textLength="6.71" lengthAdjust="spacingAndGlyphs">:</text><text x="40.85" y="775.30" font-size="15.5" textLength="24.29" lengthAdjust="spacingAndGlyphs">une</text><text x="70.27" y="775.30" font-size="15.5" textLength="31.29" lengthAdjust="spacingAndGlyphs">case</text><text x="105.72" y="775.30" font-size="15.5" textLength="80.42" lengthAdjust="spacingAndGlyphs">correspond</text><text x="189.91" y="775.30" font-size="15.5" textLength="17.96" lengthAdjust="spacingAndGlyphs">au</text><text x="210.55" y="775.30" font-size="15.5" textLength="30.92" lengthAdjust="spacingAndGlyphs">taux</text><text x="245.64" y="775.30" font-size="15.5" textLength="17.56" lengthAdjust="spacingAndGlyphs">de</text><text x="266.86" y="775.30" font-size="15.5" textLength="69.18" lengthAdjust="spacingAndGlyphs" font-weight="bold" fill="#404040" stroke="#404040">positivité</text><text x="339.74" y="775.30" font-size="15.5" textLength="32.83" lengthAdjust="spacingAndGlyphs">pour</text><text x="378.24" y="775.30" font-size="15.5" textLength="24.72" lengthAdjust="spacingAndGlyphs">une</text><text x="407.56" y="775.30" font-size="15.5" textLength="53.76" lengthAdjust="spacingAndGlyphs">tranche</text><text x="465.36" y="775.30" font-size="15.5" textLength="36.92" lengthAdjust="spacingAndGlyphs">d'âge</text><text x="505.84" y="775.30" font-size="15.5" textLength="12.36" lengthAdjust="spacingAndGlyphs">(à</text><text x="522.81" y="775.30" font-size="15.5" textLength="21.50" lengthAdjust="spacingAndGlyphs">lire</text><text x="548.88" y="775.30" font-size="15.5" textLength="6.82" lengthAdjust="spacingAndGlyphs">à</text><text x="561.12" y="775.30" font-size="15.5" textLength="45.99" lengthAdjust="spacingAndGlyphs">droite)</text><text x="610.43" y="775.30" font-size="15.5" textLength="13.08" lengthAdjust="spacingAndGlyphs">et</text><text x="628.15" y="775.30" font-size="15.5" textLength="8.55" lengthAdjust="spacingAndGlyphs">à</text><text x="640.58" y="775.30" font-size="15.5" textLength="26.33" lengthAdjust="spacingAndGlyphs">une</text><text x="670.65" y="775.30" font-size="15.5" textLength="29.93" lengthAdjust="spacingAndGlyphs">date</text><text x="705.63" y="775.30" font-size="15.5" textLength="53.07" lengthAdjust="spacingAndGlyphs">donnée</text><text x="762.06" y="775.30" font-size="15.5" textLength="13.44" lengthAdjust="spacingAndGlyphs">(à</text><text x="779.40" y="775.30" font-size="15.5" textLength="21.72" lengthAdjust="spacingAndGlyphs">lire</text><text x="805.14" y="775.30" font-size="15.5" textLength="17.38" lengthAdjust="spacingAndGlyphs">en</text><text x="826.95" y="775.30" font-size="15.5" textLength="32.80" lengthAdjust="spacingAndGlyphs">bas).</text></g>
</g>
</svg>
</body></html>
